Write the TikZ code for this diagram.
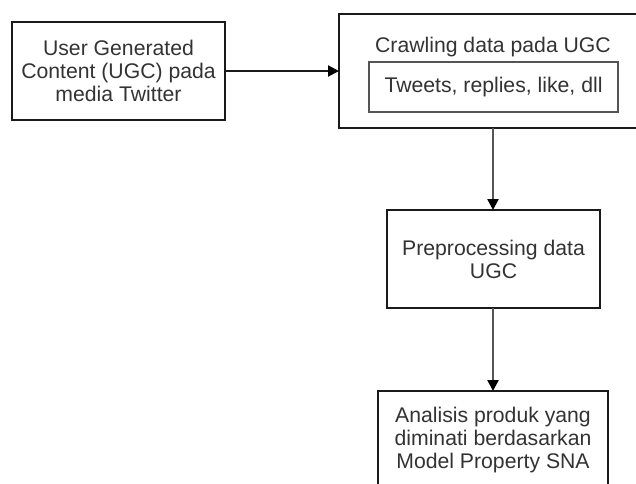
\documentclass[tikz,border=0pt]{standalone}
\usepackage{fontspec}
\setmainfont{Liberation Sans}
\usetikzlibrary{arrows.meta}
\definecolor{txt}{HTML}{333333}
\definecolor{edge}{HTML}{1A1A1A}
\definecolor{conn}{HTML}{555555}
\begin{document}
\begin{tikzpicture}[x=1pt,y=-1pt,
  box/.style={draw=edge,line width=2pt,fill=white},
  inbox/.style={draw=conn,line width=2pt,fill=white},
  lbl/.style={text=txt,font=\fontsize{21.2}{23}\selectfont,align=center,inner sep=0pt},
  conn/.style={draw=conn,line width=2.4pt,-{Triangle[length=11pt,width=11pt,fill=black,color=black]}}]
\useasboundingbox (0,0) rectangle (636,483);
\clip (0,0) rectangle (636,483);
% boxes
\draw[box] (12,22) rectangle (225,120);
\node[lbl] (ugc) at (118.5,71) {User Generated\\Content (UGC) pada\\media Twitter};
\coordinate (ugcE) at (225,71);
\draw[box] (339,14) rectangle (660,128);
\node[lbl] (crawl) at (493,47) {Crawling data pada UGC};
\coordinate (crawlW) at (339,71);
\coordinate (crawlS) at (493,128);
\draw[inbox] (369,62) rectangle (618,112);
\node[lbl] (tweets) at (493.5,87) {Tweets, replies, like, dll};
\draw[box] (387,210) rectangle (600,308);
\node[lbl] (pre) at (493.5,259.5) {Preprocessing data\\UGC};
\coordinate (preN) at (493,210);
\coordinate (preS) at (493,308);
\draw[box] (378,391) rectangle (608,489);
\node[lbl] (ana) at (493,440) {Analisis produk yang\\diminati berdasarkan\\Model Property SNA};
\coordinate (anaN) at (493,391);
% connectors
\draw[conn,draw=edge,line width=2pt] (ugcE) -- (crawlW);
\draw[conn] (crawlS) -- (preN);
\draw[conn] (preS) -- (anaN);
\end{tikzpicture}
\end{document}
